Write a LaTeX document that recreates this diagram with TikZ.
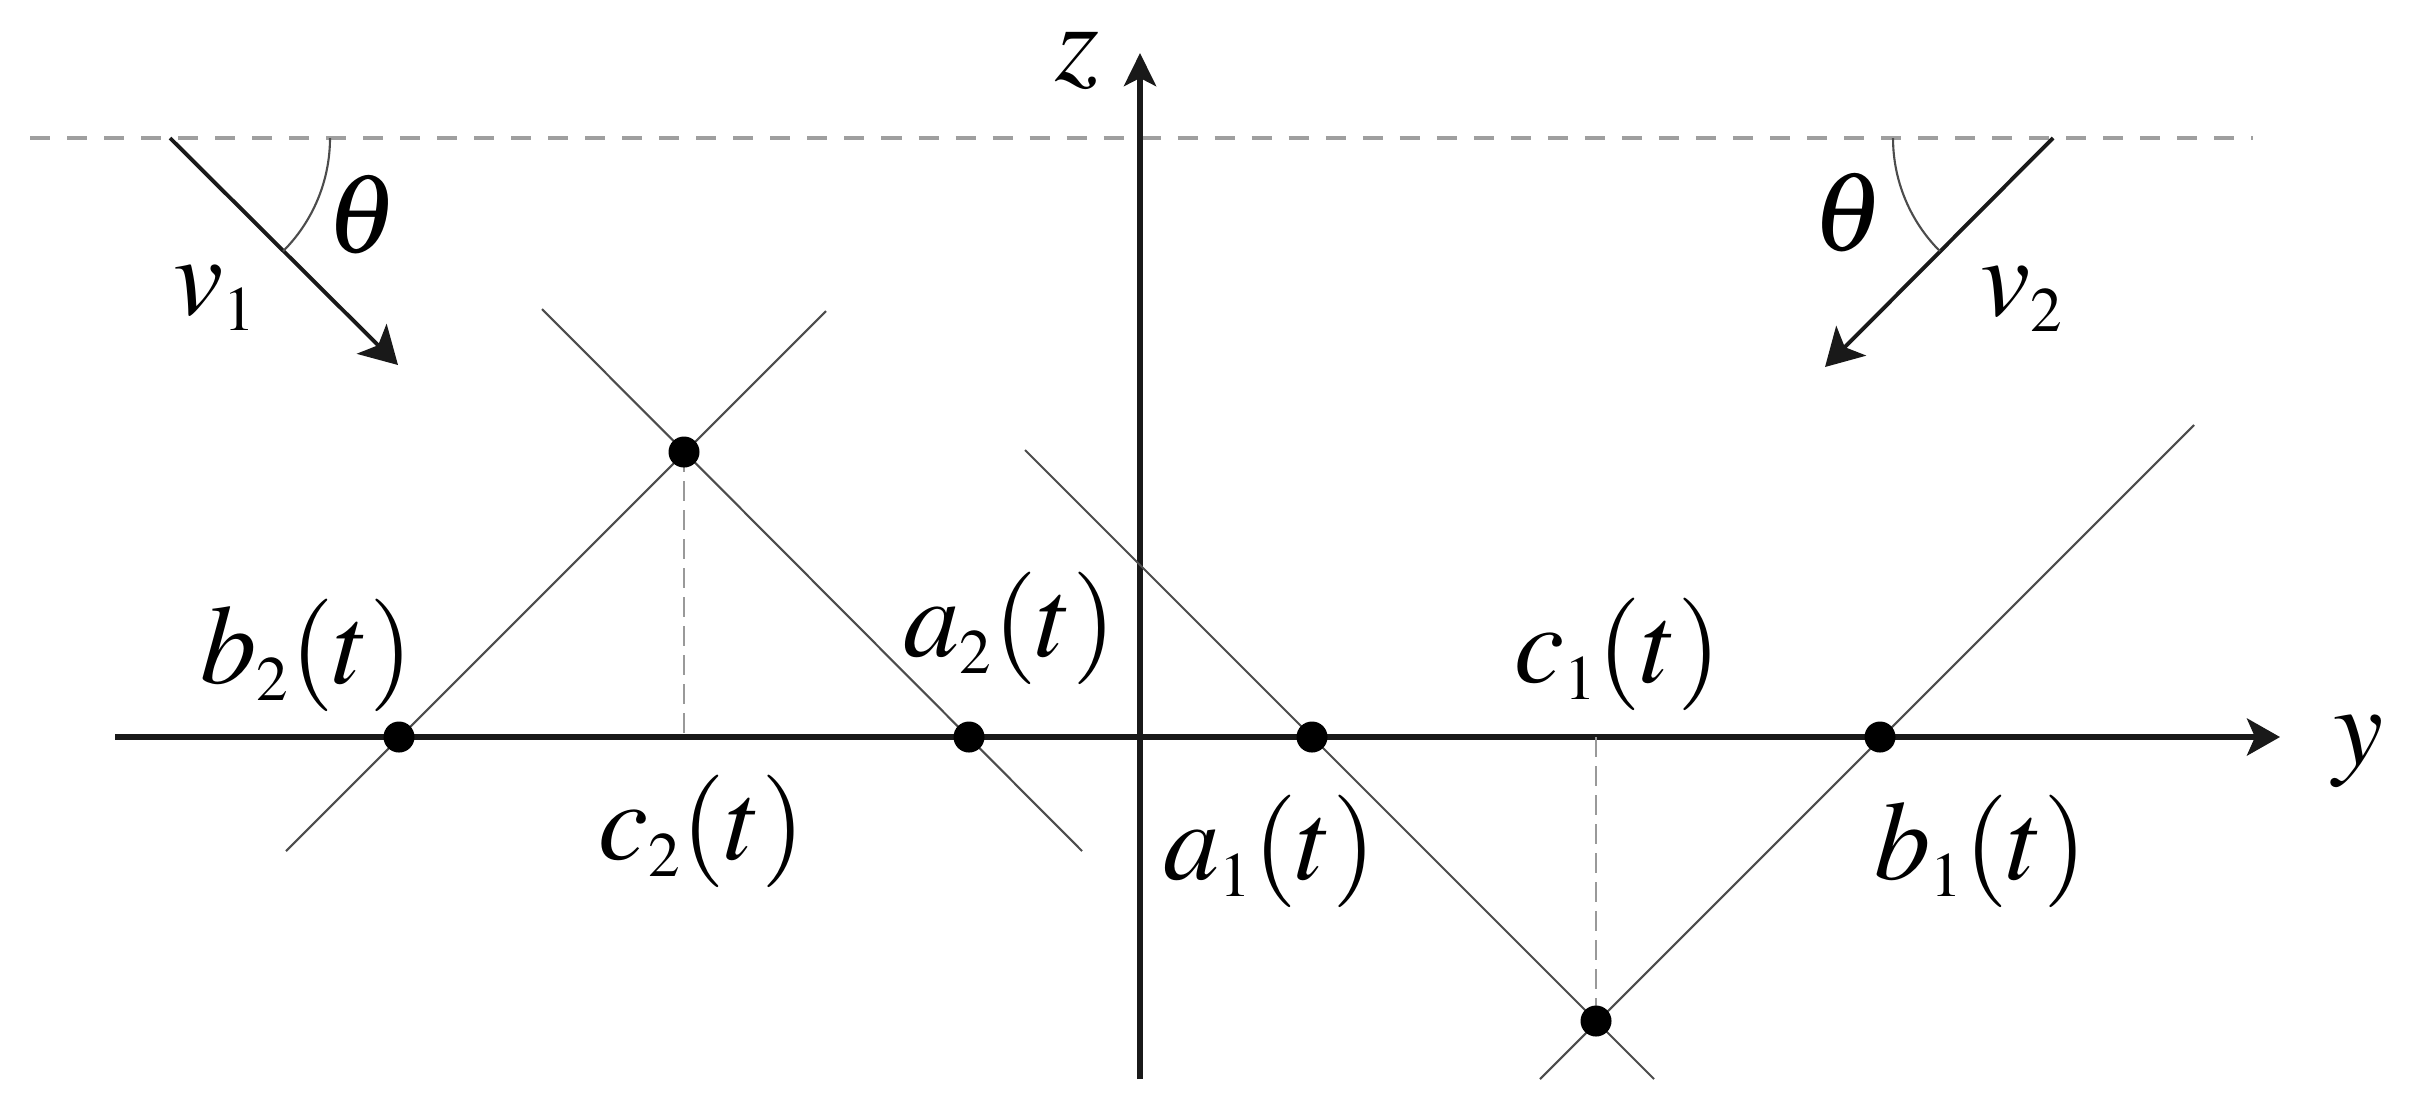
\documentclass[tikz,border=0pt]{standalone}
\usepackage{amsmath}
\usepackage{mathptmx}
\usepackage{xcolor}
\usepackage{tikz}
\usetikzlibrary{arrows.meta}
\DeclareMathSizes{32}{32}{18}{14}

\begin{document}
\begin{tikzpicture}[x=0.01cm, y=-0.01cm,
  axis/.style={black!90, line width=1.6pt},
  wave/.style={black!70, line width=0.6pt},
  guide/.style={gray!80, line width=0.6pt, dash pattern=on 0.2cm off 0.09cm},
  surface/.style={gray!75, line width=1.3pt, dash pattern=on 0.2cm off 0.17cm},
  vel/.style={black!90, line width=1.1pt, -{Stealth[length=0.37cm, width=0.42cm, inset=0.09cm]}},
  pt/.style={circle, fill=black, inner sep=0pt, minimum size=0.31cm},
  lbl/.style={font=\fontsize{32}{38}\selectfont, inner sep=0pt}]
  \useasboundingbox (0,0) rectangle (2410,1105);
  \coordinate (sl) at (30,138);
  \coordinate (sr) at (2253,138);
  \draw[surface] (sl) -- (sr);
  \coordinate (yl) at (115,737);
  \coordinate (yr) at (2280,737);
  \coordinate (zb) at (1140,1079);
  \coordinate (zt) at (1140,53);
  \draw[axis, -{Stealth[length=0.33cm, width=0.37cm, inset=0.08cm]}] (yl) -- (yr);
  \draw[axis, -{Stealth[length=0.33cm, width=0.32cm, inset=0.08cm]}] (zb) -- (zt);
  \node[lbl] (ylab) at (2358,752) {$y$};
  \node[lbl] (zlab) at (1077,61) {$z$};
  \coordinate (B2) at (399,737);
  \coordinate (A2) at (969,737);
  \coordinate (C2) at (684,737);
  \coordinate (C2top) at (684,452);
  \coordinate (A1) at (1312,737);
  \coordinate (B1) at (1880,737);
  \coordinate (C1) at (1596,737);
  \coordinate (C1bot) at (1596,1021);
  \coordinate (l2a) at (286,851);
  \coordinate (l2b) at (826,311);
  \coordinate (r2a) at (542,309);
  \coordinate (r2b) at (1082,851);
  \coordinate (l1a) at (1025,450);
  \coordinate (l1b) at (1654,1079);
  \coordinate (r1a) at (1540,1079);
  \coordinate (r1b) at (2194,425);
  \draw[wave] (l2a) -- (l2b);
  \draw[wave] (r2a) -- (r2b);
  \draw[wave] (l1a) -- (l1b);
  \draw[wave] (r1a) -- (r1b);
  \draw[guide] (C2top) -- (C2);
  \draw[guide] (C1) -- (C1bot);
  \foreach \p in {B2,A2,C2top,A1,B1,C1bot}
    \node[pt] (dot\p) at (\p) {};
  \node[lbl] (b2lab) at (307,655) {$b_2(t)$};
  \node[lbl] (a2lab) at (1010,628) {$a_2(t)$};
  \node[lbl] (c2lab) at (702,831) {$c_2(t)$};
  \node[lbl] (a1lab) at (1270,851) {$a_1(t)$};
  \node[lbl] (c1lab) at (1618,654) {$c_1(t)$};
  \node[lbl] (b1lab) at (1981,851) {$b_1(t)$};
  \coordinate (v1s) at (170,138);
  \coordinate (v1e) at (398,365);
  \coordinate (v2s) at (2053,138);
  \coordinate (v2e) at (1825,367);
  \draw[vel] (v1s) -- (v1e);
  \draw[vel] (v2s) -- (v2e);
  \draw[wave] (330,138) arc[start angle=0, end angle=45, radius=160];
  \draw[wave] (1893,138) arc[start angle=180, end angle=135, radius=160];
  \node[lbl] (th1) at (362,215) {$\theta$};
  \node[lbl] (th2) at (1848,213) {$\theta$};
  \node[lbl] (v1lab) at (215,298) {$v_1$};
  \node[lbl] (v2lab) at (2022,299) {$v_2$};
\end{tikzpicture}
\end{document}
